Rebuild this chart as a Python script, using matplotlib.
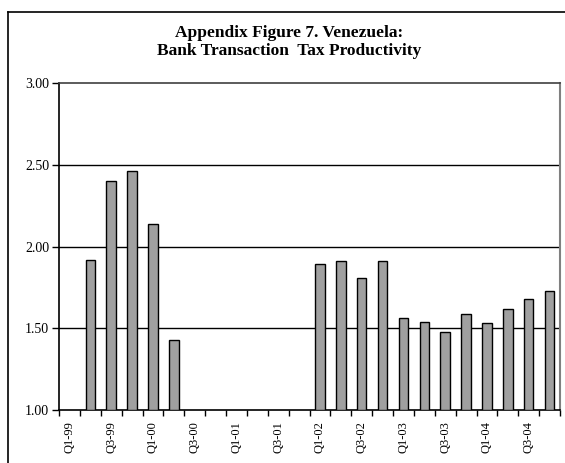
import matplotlib
matplotlib.use("Agg")
import matplotlib.pyplot as plt
import numpy as np
from matplotlib.lines import Line2D

quarters = ["Q1-99", "Q2-99", "Q3-99", "Q4-99",
            "Q1-00", "Q2-00", "Q3-00", "Q4-00",
            "Q1-01", "Q2-01", "Q3-01", "Q4-01",
            "Q1-02", "Q2-02", "Q3-02", "Q4-02",
            "Q1-03", "Q2-03", "Q3-03", "Q4-03",
            "Q1-04", "Q2-04", "Q3-04", "Q4-04"]
productivity = [np.nan, 1.92, 2.40, 2.46,
                2.14, 1.43, np.nan, np.nan,
                np.nan, np.nan, np.nan, np.nan,
                1.89, 1.91, 1.81, 1.91,
                1.56, 1.54, 1.48, 1.59,
                1.53, 1.62, 1.68, 1.73]
y_ticks = [1.00, 1.50, 2.00, 2.50, 3.00]
title = "Appendix Figure 7. Venezuela:\nBank Transaction  Tax Productivity"

plt.rcParams['font.family'] = ['Liberation Serif', 'DejaVu Serif']

W, H = 565, 463
fig = plt.figure(figsize=(W / 100, H / 100), dpi=100)
ax = fig.add_axes([59 / W, (H - 410) / H, (560 - 59) / W, (410 - 83) / H])

x = np.arange(len(quarters))
vals = np.array(productivity, dtype=float)
base = y_ticks[0]
mask = ~np.isnan(vals)
ax.bar(x[mask], vals[mask] - base, bottom=base, width=0.45,
       color="#a0a0a0", edgecolor="black", linewidth=1.0, zorder=3)

ax.set_xlim(-0.5, len(quarters) - 0.5)
ax.set_ylim(y_ticks[0], y_ticks[-1])
ax.set_yticks(y_ticks)
ax.set_yticklabels([f"{v:.2f}" for v in y_ticks], fontsize=10)
for v in y_ticks[1:-1]:
    ax.axhline(v, color="black", linewidth=1.0, zorder=1)

ax.set_xticks(x[::2])
ax.set_xticklabels(quarters[::2], rotation=90, fontsize=9)
ax.tick_params(axis="x", which="major", length=0, pad=8)
ax.set_xticks(np.arange(len(quarters) + 1) - 0.5, minor=True)
ax.tick_params(axis="x", which="minor", length=4, width=1, direction="out")
ax.tick_params(axis="y", length=5, width=1, direction="out", pad=2)

ax.spines["left"].set_color("black")
ax.spines["bottom"].set_color("black")
ax.spines["left"].set_linewidth(1.2)
ax.spines["bottom"].set_linewidth(1.2)
ax.spines["top"].set_color("#404040")
ax.spines["right"].set_color("#808080")
ax.spines["right"].set_linewidth(1.5)
ax.spines["top"].set_linewidth(1.2)

fig.text(289 / W, 1 - 42 / H, title, ha="center", va="center",
         fontsize=12.5, fontweight="bold", linespacing=1.2)

# outer frame (cropped at right/bottom)
fig.add_artist(Line2D([8 / W, 8 / W], [1 - 12 / H, 0], transform=fig.transFigure,
                      color="black", linewidth=1.2))
fig.add_artist(Line2D([8 / W, 1], [1 - 12 / H, 1 - 12 / H], transform=fig.transFigure,
                      color="black", linewidth=1.2))

fig.savefig("out.png", dpi=100)
